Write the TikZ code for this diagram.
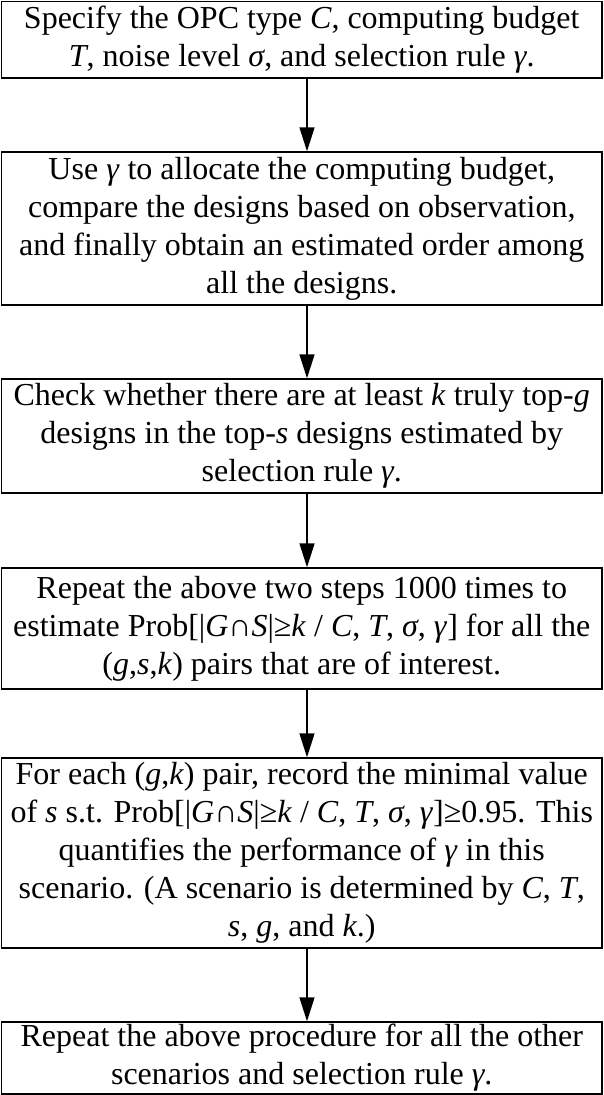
\documentclass[tikz,border=0pt]{standalone}
\usepackage{fontspec}
\setmainfont{Liberation Serif}
\usetikzlibrary{arrows.meta}

\tikzset{
  stepbox/.style={draw=black, line width=1.4bp, fill=white, rectangle,
    minimum width=600.5bp, inner sep=0pt, align=center,
    font=\fontsize{32bp}{38bp}\selectfont},
  flowarrow/.style={draw=black, line width=1.4bp,
    -{Triangle[length=24bp,width=15bp]}}
}
\newcommand{\vi}[1]{\textit{#1}}

\begin{document}
\begin{tikzpicture}[x=1bp,y=-1bp]
  \useasboundingbox[fill=white] (0,0) rectangle (604,1095);

  \node[stepbox, minimum height=76.5bp] (b1) at (301.75,39.75)
    {Specify the OPC type \vi{C}, computing budget\\
     \vi{T}, noise level \vi{σ}, and selection rule \vi{γ}.};

  \node[stepbox, minimum height=153bp] (b2) at (301.75,228.5)
    {Use \vi{γ} to allocate the computing budget,\\
     compare the designs based on observation,\\
     and finally obtain an estimated order among\\
     all the designs.};

  \node[stepbox, minimum height=114bp] (b3) at (301.75,436)
    {Check whether there are at least \vi{k} truly top-\vi{g}\\
     designs in the top-\vi{s} designs estimated by\\
     selection rule \vi{γ}.};

  \node[stepbox, minimum height=121bp] (b4) at (301.75,628.5)
    {Repeat the above two steps 1000 times to\\
     estimate Prob[|\vi{G}∩\vi{S}|≥\vi{k} / \vi{C}, \vi{T}, \vi{σ}, \vi{γ}] for all the\\
     (\vi{g},\vi{s},\vi{k}) pairs that are of interest.};

  \node[stepbox, minimum height=190bp] (b5) at (301.75,853)
    {For each (\vi{g},\vi{k}) pair, record the minimal value\\
     of \vi{s} s.t. Prob[|\vi{G}∩\vi{S}|≥\vi{k} / \vi{C}, \vi{T}, \vi{σ}, \vi{γ}]≥0.95. This\\
     quantifies the performance of \vi{γ} in this\\
     scenario. (A scenario is determined by \vi{C}, \vi{T},\\
     \vi{s}, \vi{g}, and \vi{k}.)};

  \node[stepbox, minimum height=72bp] (b6) at (301.75,1058)
    {Repeat the above procedure for all the other\\
     scenarios and selection rule \vi{γ}.};

  % arrows run down a common vertical line
  \coordinate (ax) at (307,0);
  \foreach \a/\b in {b1/b2, b2/b3, b3/b4, b4/b5, b5/b6}
    \draw[flowarrow] (\a.south -| ax) -- (\b.north -| ax);
\end{tikzpicture}
\end{document}
